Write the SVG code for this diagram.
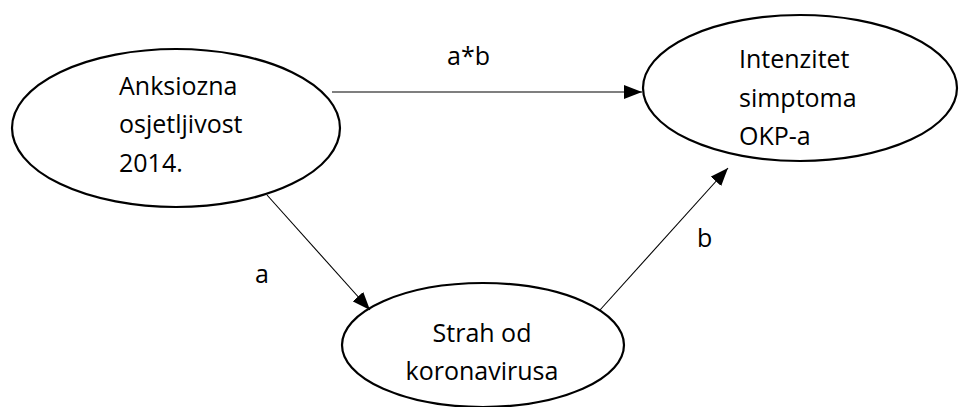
<svg xmlns="http://www.w3.org/2000/svg" width="960" height="407" viewBox="0 0 960 407">
<style>
.node ellipse{fill:#fff;stroke:#000;stroke-width:2.2}
text{font-family:"Open Sans","DejaVu Sans",sans-serif;font-size:25px;fill:#000}
.edge{stroke:#000;stroke-width:1.1;fill:none}
</style>
<defs>
<marker id="ah" viewBox="0 0 18 14" refX="18" refY="7" markerWidth="18" markerHeight="14" markerUnits="userSpaceOnUse" orient="auto">
<path d="M0,0 L18,7 L0,14 Z" fill="#000"/>
</marker>
</defs>
<rect width="960" height="407" fill="#fff"/>
<g id="n1" class="node">
<ellipse cx="176" cy="128" rx="164" ry="79"/>
<text x="119" y="95">Anksiozna</text>
<text x="119" y="133">osjetljivost</text>
<text x="119" y="172">2014.</text>
</g>
<g id="n2" class="node">
<ellipse cx="800" cy="88" rx="157" ry="73"/>
<text x="739" y="68">Intenzitet</text>
<text x="739" y="107">simptoma</text>
<text x="739" y="145">OKP-a</text>
</g>
<g id="n3" class="node">
<ellipse cx="483" cy="345" rx="141" ry="62"/>
<text x="482" y="342" text-anchor="middle">Strah od</text>
<text x="482" y="380" text-anchor="middle">koronavirusa</text>
</g>
<g id="edges">
<line class="edge" x1="332" y1="92" x2="642" y2="92" marker-end="url(#ah)"/>
<line class="edge" x1="267" y1="195" x2="370" y2="310" marker-end="url(#ah)"/>
<line class="edge" x1="600" y1="310" x2="728" y2="168" marker-end="url(#ah)"/>
<text x="447" y="65">a*b</text>
<text x="255" y="283">a</text>
<text x="697" y="247">b</text>
</g>
</svg>
